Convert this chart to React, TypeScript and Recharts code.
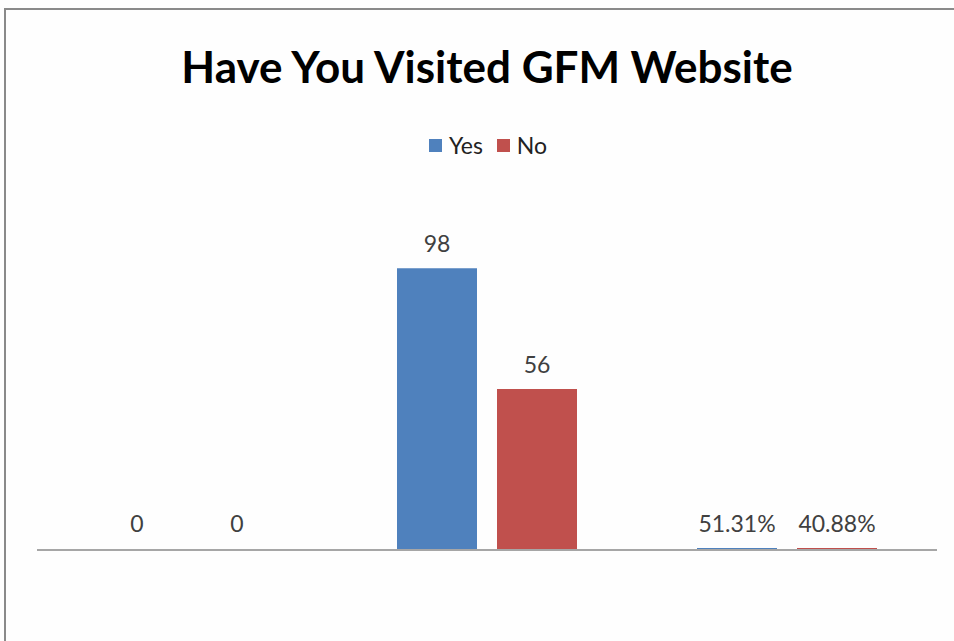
import { BarChart, Bar, XAxis, YAxis, LabelList, ReferenceLine, Cell } from "recharts";

const categories = ["A", "B", "C"];
const yesValues = [0, 98, 0.5131];
const noValues = [0, 56, 0.4088];
// the last group is shown as percentages
const labelFormats = ["number", "number", "percent"];

const series = [
  { key: "yes", name: "Yes", color: "#4f81bd" },
  { key: "no", name: "No", color: "#c0504d" },
];

const fmtValue = (v: number, fmt: string) =>
  fmt === "percent" ? `${(v * 100).toFixed(2)}%` : String(v);

const data = categories.map((c, i) => ({
  name: c,
  yes: yesValues[i],
  no: noValues[i],
  yesLabel: fmtValue(yesValues[i], labelFormats[i]),
  noLabel: fmtValue(noValues[i], labelFormats[i]),
}));

const FONT = "Lato, 'Open Sans', sans-serif";

const renderLabel = (props: any) => {
  const { x, y, width, value } = props;
  return (
    <text
      x={x + width / 2}
      y={y - 16}
      textAnchor="middle"
      fill="#404040"
      fontSize={23}
      fontFamily={FONT}
    >
      {value}
    </text>
  );
};

export default function App() {
  return (
    <div
      style={{
        position: "absolute",
        left: 0,
        top: 0,
        width: 954,
        height: 641,
        background: "#fefefe",
        fontFamily: FONT,
      }}
    >
      <div
        style={{
          position: "absolute",
          left: 4,
          top: 8,
          right: 0,
          bottom: 0,
          borderTop: "2px solid #8a8a8a",
          borderLeft: "2px solid #8a8a8a",
        }}
      />
      <div
        style={{
          position: "absolute",
          top: 37,
          left: 0,
          width: 974,
          textAlign: "center",
          fontSize: 44,
          fontWeight: 700,
          color: "#000",
          lineHeight: "58px",
        }}
      >
        Have You Visited GFM Website
      </div>
      <div
        style={{
          position: "absolute",
          top: 130,
          left: 0,
          width: 976,
          display: "flex",
          justifyContent: "center",
          gap: 14,
          fontSize: 23,
          color: "#222",
          lineHeight: "30px",
        }}
      >
        {series.map((s) => (
          <div key={s.key} style={{ display: "flex", alignItems: "center" }}>
            <span
              style={{
                display: "inline-block",
                width: 13,
                height: 13,
                background: s.color,
                marginRight: 7,
              }}
            />
            {s.name}
          </div>
        ))}
      </div>
      <div style={{ position: "absolute", left: 0, top: 0 }}>
        <BarChart
          width={954}
          height={641}
          data={data}
          margin={{ top: 205, right: 17, bottom: 91, left: 37 }}
          barGap={20}
          barSize={80}
        >
          <XAxis dataKey="name" hide />
          <YAxis hide domain={[0, 120]} />
          <ReferenceLine y={0} stroke="#a6a6a6" strokeWidth={2} />
          {series.map((s) => (
            <Bar
              key={s.key}
              dataKey={s.key}
              name={s.name}
              fill={s.color}
              minPointSize={2}
              isAnimationActive={false}
            >
              {data.map((d, i) => (
                <Cell
                  key={i}
                  fill={(d as any)[s.key] > 0 ? s.color : "transparent"}
                />
              ))}
              <LabelList dataKey={`${s.key}Label`} content={renderLabel} />
            </Bar>
          ))}
        </BarChart>
      </div>
    </div>
  );
}
